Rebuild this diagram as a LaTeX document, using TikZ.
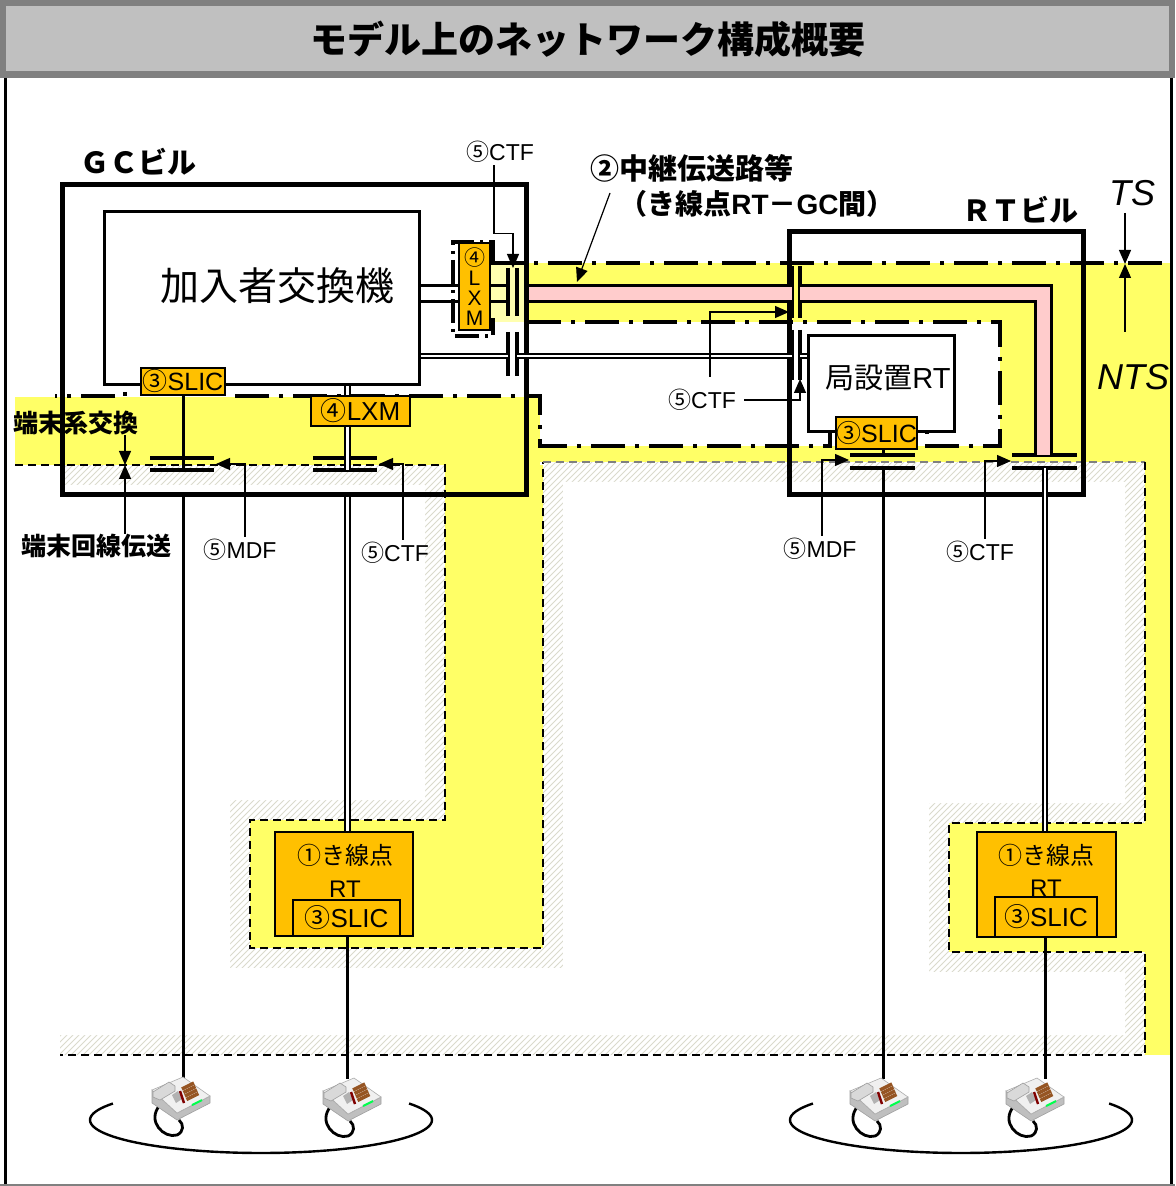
\documentclass[tikz,border=0pt]{standalone}
\usepackage{fontspec}
\setmainfont{Noto Sans CJK JP}
\newfontfamily\latinsans{Liberation Sans}
\newcommand{\ltn}[1]{{\latinsans #1}}
\usetikzlibrary{positioning,arrows.meta,patterns}

\definecolor{ntsyellow}{RGB}{255,255,102}
\definecolor{paleyellow}{RGB}{255,255,175}
\definecolor{unitorange}{RGB}{255,192,0}
\definecolor{tubepink}{RGB}{255,204,204}
\definecolor{titlegray}{RGB}{192,192,192}
\definecolor{titleedge}{RGB}{128,128,128}
\definecolor{hatchgray}{RGB}{218,218,204}
\definecolor{keybrown}{RGB}{150,85,35}

\tikzset{
    building/.style={draw, line width=2.5pt, inner sep=0pt},
    equip/.style={draw, line width=1.5pt, fill=white, inner sep=0pt},
    unit/.style={draw, line width=1pt, fill=unitorange, inner sep=0pt, font=\fontsize{12.5}{13}\selectfont},
    tsline/.style={line width=2pt, dash pattern=on 17pt off 5pt on 2pt off 5pt},
    bracket/.style={line width=2pt, dash pattern=on 12pt off 3pt on 1.5pt off 3pt},
    ntsline/.style={line width=0.8pt, dash pattern=on 4pt off 2.5pt},
    cfbar/.style={line width=1.6pt},
    wire/.style={line width=1.5pt},
    pairwire/.style={double, double distance=1.2pt, line width=1pt},
    lead/.style={line width=0.6pt, -{Triangle[length=7pt,width=6pt]}},
    tag/.style={font=\fontsize{11.5}{13}\selectfont, inner sep=1pt},
    bldname/.style={font=\bfseries\fontsize{14.5}{16}\selectfont, inner sep=0pt},
    remark/.style={font=\bfseries\fontsize{12.5}{14}\selectfont, inner sep=0pt},
    telephone/.pic={
        % cord
        \draw[line width=1.4pt] (-20,0) .. controls (-34,16) and (-16,34) .. (-3,30)
            .. controls (4,27) and (4,19) .. (-1,15);
        % body
        \filldraw[fill=gray!50, draw=gray!75, line width=0.3pt]
            (-28,-15) -- (-28,-2) -- (-3,15) -- (30,-2) -- (30,-9) -- (-3,8) -- cycle;
        \filldraw[fill=gray!12, draw=gray!65, line width=0.3pt]
            (-28,-15) -- (3,-28) -- (30,-9) -- (-3,8) -- cycle;
        % handset
        \filldraw[fill=gray!30, draw=gray!75, line width=0.3pt]
            (-27,-13) -- (-11,-23) -- (-5,-19) -- (-5,-14) -- (-20,-5) -- (-27,-8) -- cycle;
        \fill[gray!60] (-8,-10) -- (-2,-14) -- (2,-6) -- (-4,-2) -- cycle;
        \foreach \k in {0,1,2,3}
            \draw[keybrown, line width=1.7pt] (2+1.5*\k,-16+3.5*\k) -- (14+1.5*\k,-22+3.5*\k);
        \draw[red!50!black, line width=1.2pt] (0,-14) -- (4,-2);
        \draw[green!70!cyan, line width=1pt] (12,0) -- (22,-5);
    }
}

\begin{document}
\begin{tikzpicture}[x=0.5pt, y=-0.5pt]
\useasboundingbox (0,0) rectangle (1175,1186);

% title bar and frame
\fill[titleedge] (0,0) rectangle (1175,78);
\fill[titlegray] (6,6) rectangle (1169,71);
\node[font=\bfseries\fontsize{18.5}{20}\selectfont] (title) at (587.5,39) {モデル上のネットワーク構成概要};
\draw[line width=1.5pt] (5,78) -- (5,1186);
\draw[line width=1.5pt] (1171,78) -- (1171,1186);
\draw[titleedge, line width=1pt] (0,1184.5) -- (1175,1184.5);

% subscriber line area (hatched rim)
\fill[pattern=north east lines, pattern color=hatchgray]
    (60,465) -- (445,465) -- (445,820) -- (250,820) -- (250,948) -- (543,948) -- (543,462)
    -- (1145,462) -- (1145,823) -- (949,823) -- (949,952) -- (1145,952) -- (1145,1055) -- (60,1055) -- cycle;
\fill[white]
    (60,485) -- (425,485) -- (425,800) -- (230,800) -- (230,968) -- (563,968) -- (563,482)
    -- (1125,482) -- (1125,803) -- (929,803) -- (929,972) -- (1125,972) -- (1125,1035) -- (60,1035) -- cycle;

% NTS area
\fill[ntsyellow] (15,397) rectangle (540,465);
\fill[ntsyellow] (445,465) rectangle (543,948);
\fill[ntsyellow] (250,820) rectangle (543,948);
\fill[ntsyellow] (527,263) rectangle (1170,322);
\fill[ntsyellow] (540,446) rectangle (1145,462);
\fill[ntsyellow] (1000,263) rectangle (1170,462);
\fill[ntsyellow] (1145,462) rectangle (1170,1055);
\fill[ntsyellow] (949,823) rectangle (1145,952);
\fill[paleyellow] (490,263) rectangle (526,322);

% boundaries
\draw[ntsline] (15,465) -- (445,465) -- (445,820) -- (250,820) -- (250,948) -- (543,948) -- (543,462);
\draw[ntsline, gray] (543,462) -- (1145,462);
\draw[ntsline] (1145,462) -- (1145,823) -- (949,823) -- (949,952) -- (1145,952) -- (1145,1055) -- (60,1055);
\draw[tsline] (490,263) -- (1170,263);
\draw[tsline] (527,322) -- (1000,322) -- (1000,446) -- (927,446) -- (927,410) -- (830,410) -- (830,446)
    -- (540,446) -- (540,396) -- (237,396) -- (237,357) -- (125,357) -- (125,396) -- (55,396);
\draw[bracket] (493,262) -- (493,242) -- (453,242) -- (453,336) -- (493,336) -- (493,318);

% buildings
\node[building, minimum width=232pt, minimum height=154.5pt] (gc) at (294,339.5) {};
\node[building, minimum width=147pt, minimum height=131pt] (rt) at (936,363) {};
\node[bldname] (gcname) at (138,162) {ＧＣビル};
\node[bldname] (rtname) at (1020,210) {ＲＴビル};

% equipment
\node[equip, minimum width=157.5pt, minimum height=86.5pt] (switch) at (261.5,298.5) {};
\node[font=\fontsize{19.5}{21}\selectfont] (switchname) at (277,286) {加入者交換機};
\node[equip, minimum width=73pt, minimum height=48pt] (rtsys) at (881,384) {};
\node[font=\fontsize{14.5}{16}\selectfont] (rtsysname) at (888,378) {局設置\ltn{RT}};

% line levels and frames
\coordinate (lvA) at (0,286);
\coordinate (lvB) at (0,302);
\coordinate (lvC) at (0,356);
\coordinate (ctfAl) at (508,292);
\coordinate (ctfAr) at (517,292);
\coordinate (ctfBl) at (792,292);
\coordinate (ctfBr) at (800,292);
\coordinate (tubeO) at (1051,455);
\coordinate (tubeI) at (1035,455);
\coordinate (mdfA) at (183,458);
\coordinate (mdfAd) at (183,470);
\coordinate (ctfD) at (347.5,458);
\coordinate (ctfDd) at (347.5,470);
\coordinate (mdfB) at (883,455);
\coordinate (mdfBd) at (883,468);
\coordinate (ctfCd) at (1045,468);

\draw[cfbar] (508,268) -- (508,316) (517,268) -- (517,316);
\draw[cfbar] (508,332) -- (508,376) (517,332) -- (517,376);
\draw[line width=2pt] (792,266) -- (792,318) (792,330) -- (792,380);
\draw[cfbar] (800,266) -- (800,318) (800,330) -- (800,380);
\draw[cfbar] (150,458) -- (214,458) (150,470) -- (214,470);
\draw[cfbar] (313,458) -- (377,458) (313,470) -- (377,470);
\draw[cfbar] (850,455) -- (915,455) (850,468) -- (915,468);
\draw[cfbar] (1012,455) -- (1077,455) (1012,468) -- (1077,468);

% trunk (GC - RT)
\fill[tubepink] (gc.east |- lvA) rectangle (ctfBl |- lvB);
\draw[wire] (gc.east |- lvA) -- (ctfBl |- lvA);
\draw[wire] (gc.east |- lvB) -- (ctfBl |- lvB);
\fill[tubepink] (ctfBr |- lvA) -| (tubeO) -- (tubeI) |- (ctfBr |- lvB) -- cycle;
\draw[wire] (ctfBr |- lvA) -| (tubeO);
\draw[wire] (ctfBr |- lvB) -| (tubeI);
\draw[pairwire] (switch.east |- lvC) -- (ctfAl |- lvC);
\draw[pairwire] (ctfAr |- lvC) -- (ctfBl |- lvC);
\draw[pairwire] (ctfBr |- lvC) -- (rtsys.west |- lvC);

% units
\node[unit, minimum width=15.5pt, minimum height=43.5pt, align=center, font=\fontsize{10.5}{10}\selectfont] (lxmA) at (474.5,286.5) {④\\\ltn{L}\\\ltn{X}\\\ltn{M}};
\draw[wire] (switch.east |- lvA) -- (lxmA.west |- lvA);
\draw[wire] (switch.east |- lvB) -- (lxmA.west |- lvB);
\draw[wire] (lxmA.east |- lvA) -- (ctfAl |- lvA);
\draw[wire] (lxmA.east |- lvB) -- (ctfAl |- lvB);

\node[unit, minimum width=42pt, minimum height=13.5pt] (slicA) at (183,381.5) {③\ltn{SLIC}};
\node[unit, minimum width=49.5pt, minimum height=15pt, font=\fontsize{13}{14}\selectfont] (lxmB) at (360.5,411) {④\ltn{LXM}};
\node[unit, minimum width=40.5pt, minimum height=16pt] (slicB) at (876.5,433) {③\ltn{SLIC}};

\node[unit, minimum width=69pt, minimum height=52pt] (feedA) at (344,884) {};
\node[unit, minimum width=53.5pt, minimum height=18pt, font=\fontsize{13}{14}\selectfont] (feedAslic) at (346.5,918) {③\ltn{SLIC}};
\node[font=\fontsize{12}{13}\selectfont] (feedAname) at (345,855) {①き線点};
\node[font=\fontsize{12}{13}\selectfont] (feedArt) at (345,889) {\ltn{RT}};
\node[unit, minimum width=69.5pt, minimum height=52.5pt] (feedB) at (1046.5,884.5) {};
\node[unit, minimum width=51pt, minimum height=20pt, font=\fontsize{13}{14}\selectfont] (feedBslic) at (1046,917) {③\ltn{SLIC}};
\node[font=\fontsize{12}{13}\selectfont] (feedBname) at (1046,855) {①き線点};
\node[font=\fontsize{12}{13}\selectfont] (feedBrt) at (1046,888) {\ltn{RT}};

% subscriber lines
\coordinate (tel1) at (183,1079);
\coordinate (tel2) at (347.5,1079);
\coordinate (tel3) at (883,1079);
\coordinate (tel4) at (1045,1079);
\draw[wire] (slicA.south) -- (mdfAd);
\draw[wire] (slicA.south |- gc.south) -- (tel1);
\draw[pairwire] (ctfD |- switch.south) -- (ctfD |- lxmB.north);
\draw[pairwire] (ctfD |- lxmB.south) -- (ctfDd);
\draw[pairwire] (ctfD |- gc.south) -- (ctfD |- feedA.north);
\draw[wire] (ctfD |- feedA.south) -- (tel2);
\draw[wire] (mdfB |- slicB.south) -- (mdfB);
\draw[wire] (mdfBd) -- (tel3);
\draw[pairwire] (ctfCd) -- (ctfCd |- feedB.north);
\draw[wire] (ctfCd |- feedB.south) -- (tel4);

% labels and leaders
\node[tag] (ctfAlbl) at (500,152) {⑤\ltn{CTF}};
\node[tag] (ctfBlbl) at (702,400) {⑤\ltn{CTF}};
\node[tag] (ctfDlbl) at (395,553) {⑤\ltn{CTF}};
\node[tag] (ctfClbl) at (980,552) {⑤\ltn{CTF}};
\node[tag] (mdfAlbl) at (240,550) {⑤\ltn{MDF}};
\node[tag] (mdfBlbl) at (820,549) {⑤\ltn{MDF}};

\coordinate (ctfAtip) at (513,268);
\coordinate (ctfBfoot) at (710,377);
\coordinate (ctfBtipA) at (789,312);
\coordinate (ctfBtipB) at (800,379);
\coordinate (mdfAtip) at (216,464);
\coordinate (ctfDtip) at (379,464);
\coordinate (mdfBtip) at (849,460);
\coordinate (ctfCtip) at (1011,461);
\draw[lead] ([xshift=-3pt]ctfAlbl.south) -- ++(0,68) -| (ctfAtip);
\draw[lead] (ctfBfoot) |- (ctfBtipA);
\draw[lead] ([xshift=3pt]ctfBlbl.east) -| (ctfBtipB);
\draw[lead] ([xshift=2.5pt]mdfAlbl.north) |- (mdfAtip);
\draw[lead] ([xshift=4pt]ctfDlbl.north) |- (ctfDtip);
\draw[lead] ([xshift=1pt]mdfBlbl.north) |- (mdfBtip);
\draw[lead] ([xshift=2.5pt]ctfClbl.north) |- (ctfCtip);

\node[font=\bfseries\fontsize{14.5}{16}\selectfont] (trunk) at (692,168) {②中継伝送路等};
\node[font=\bfseries\fontsize{14}{16}\selectfont] (trunksub) at (757,204) {（き線点\ltn{RT}－\ltn{GC}間）};
\coordinate (trunkfoot) at (610,193);
\coordinate (trunktip) at (577,282);
\draw[lead] (trunkfoot) -- (trunktip);

\node[remark] (termsw) at (76,423) {端末系交換};
\node[remark] (termtx) at (96,546) {端末回線伝送};
\coordinate (bnd) at (125,465);
\draw[lead] (bnd |- termsw.south) -- (bnd);
\draw[lead] (bnd |- termtx.north) -- (bnd);

\node[font=\latinsans\itshape\fontsize{18}{20}\selectfont] (tslbl) at (1132,193) {TS};
\node[font=\latinsans\itshape\fontsize{18}{20}\selectfont] (ntslbl) at (1133,377) {NTS};
\coordinate (tsbnd) at (1125,264);
\coordinate (ntsfoot) at (1125,332);
\draw[lead] (tsbnd |- tslbl.south) -- (tsbnd);
\draw[lead] (ntsfoot) -- (tsbnd);

% terminals
\draw[line width=1.2pt] plot[domain=-30:210, samples=80] ({261+171*cos(\x)}, {1120+33*sin(\x)});
\draw[line width=1.2pt] plot[domain=-30:210, samples=80] ({961+171*cos(\x)}, {1120+33*sin(\x)});
\pic at (180,1105) {telephone};
\pic at (351,1106) {telephone};
\pic at (878,1106) {telephone};
\pic at (1034,1106) {telephone};

\end{tikzpicture}
\end{document}
